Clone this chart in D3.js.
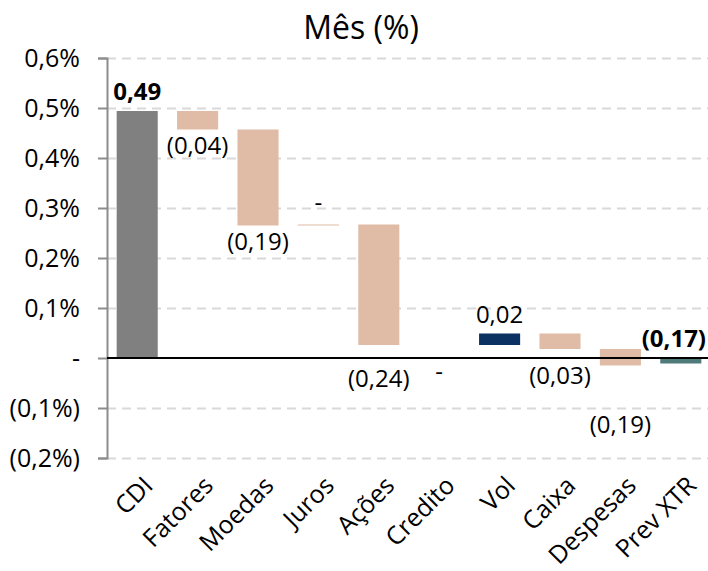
<!DOCTYPE html>
<html>
<head>
<meta charset="utf-8">
<script src="https://cdn.jsdelivr.net/npm/d3@7"></script>
<style>
  body { margin: 0; background: #fff; }
  svg { display: block; font-family: 'Open Sans', sans-serif; }
</style>
</head>
<body>
<svg></svg>
<script>
// categories on the x axis
let categories = ['CDI', 'Fatores', 'Moedas', 'Juros', 'Ações', 'Credito', 'Vol', 'Caixa', 'Despesas', 'Prev XTR']
// bar sizes (in %) as drawn; totals start at zero, steps start where the previous step ended
let deltas = [0.494, -0.037, -0.192, 0.002, -0.241, 0, 0.023, -0.031, -0.033, -0.011]
let kinds = ['total', 'step', 'step', 'step', 'step', 'step', 'step', 'step', 'step', 'total']
// printed data labels
let valueLabels = ['0,49', '(0,04)', '(0,19)', '-', '(0,24)', '-', '0,02', '(0,03)', '(0,19)', '(0,17)']
// y axis
let yTicks = [-0.2, -0.1, 0, 0.1, 0.2, 0.3, 0.4, 0.5, 0.6]
let yTickLabels = ['(0,2%)', '(0,1%)', '-', '0,1%', '0,2%', '0,3%', '0,4%', '0,5%', '0,6%']

let width = 708
let height = 571
let plotLeft = 107
let plotRight = 711
let plotTop = 58
let plotBottom = 458

let svg = d3.select('svg')
    .attr('width', width)
    .attr('height', height)

// build start/end of each bar
let rows = []
let running = 0
categories.forEach((c, i) => {
    let start, end
    if (kinds[i] == 'total') {
        start = 0
        end = deltas[i]
    } else {
        start = running
        end = running + deltas[i]
    }
    running = end
    rows.push({cat: c, start: start, end: end, delta: deltas[i], kind: kinds[i], label: valueLabels[i]})
})

let xScale = d3.scaleBand()
    .domain(categories)
    .range([plotLeft, plotRight])
    .paddingInner(0.32)
    .paddingOuter(0.16)

let yScale = d3.scaleLinear()
    .domain([-0.2, 0.6])
    .range([plotBottom, plotTop])

// title
svg.append('text')
    .attr('x', 361)
    .attr('y', 39)
    .attr('text-anchor', 'middle')
    .style('font-size', '32px')
    .attr('fill', '#000')
    .text('Mês (%)')

// dashed gridlines
svg.append('g')
    .attr('transform', 'translate(' + plotLeft + ',0)')
    .call(d3.axisLeft(yScale).tickValues(yTicks.filter(v => v != 0)).tickSize(-(width - plotLeft)).tickFormat(''))
    .call(g => g.select('.domain').remove())
    .selectAll('line')
    .attr('stroke', '#d9d9d9')
    .attr('stroke-width', 2)
    .attr('stroke-dasharray', '9,6')

// y axis
let yAxis = d3.axisLeft(yScale)
    .tickValues(yTicks)
    .tickSize(9)
    .tickPadding(18)
    .tickFormat(v => yTickLabels[yTicks.indexOf(v)])

svg.append('g')
    .attr('transform', 'translate(' + plotLeft + ',0)')
    .call(yAxis)
    .call(g => g.select('.domain').attr('stroke', '#8c8c8c').attr('stroke-width', 2))
    .call(g => g.selectAll('.tick line').attr('stroke', '#8c8c8c').attr('stroke-width', 2))
    .call(g => g.selectAll('.tick text').style('font-size', '25px').attr('fill', '#000').style('font-family', "'Open Sans', sans-serif"))

let barColor = (d) => {
    if (d.cat == 'CDI') return '#808080'
    if (d.kind == 'total') return '#4f7b7b'
    if (d.delta > 0 && d.cat != 'Juros') return '#0b3162'
    return '#e0bba6'
}

// bars
svg.selectAll('rect.bar')
    .data(rows)
    .enter()
    .append('rect')
    .attr('class', 'bar')
    .attr('x', d => xScale(d.cat))
    .attr('width', xScale.bandwidth())
    .attr('y', d => yScale(Math.max(d.start, d.end)))
    .attr('height', d => Math.abs(yScale(d.start) - yScale(d.end)))
    .attr('fill', barColor)

// zero line
svg.append('line')
    .attr('x1', plotLeft)
    .attr('x2', width)
    .attr('y1', yScale(0))
    .attr('y2', yScale(0))
    .attr('stroke', '#000')
    .attr('stroke-width', 2)

// manual label nudges (px), like hand-placed labels in the original
let labelShift = {'Ações': 18, 'Credito': 11, 'Caixa': 11, 'Despesas': 43, 'Juros': -3}

svg.selectAll('text.value')
    .data(rows)
    .enter()
    .append('text')
    .attr('class', 'value')
    .attr('x', d => xScale(d.cat) + xScale.bandwidth() / 2)
    .attr('y', d => {
        let above = d.kind == 'total' || d.delta > 0
        let y = above ? yScale(Math.max(d.start, d.end)) - 19 : yScale(Math.min(d.start, d.end)) + 16
        return y + (labelShift[d.cat] || 0)
    })
    .attr('dy', '0.35em')
    .attr('text-anchor', 'middle')
    .style('font-size', '24px')
    .style('font-weight', d => d.kind == 'total' ? 'bold' : 'normal')
    .attr('fill', '#000')
    .text(d => d.label)
    .each(function () {
        // keep labels inside the picture
        let box = this.getBBox()
        if (box.x + box.width > width - 2) {
            d3.select(this).attr('x', +d3.select(this).attr('x') - (box.x + box.width - (width - 2)))
        }
    })

// rotated category labels
svg.selectAll('text.cat')
    .data(categories)
    .enter()
    .append('text')
    .attr('class', 'cat')
    .attr('transform', c => 'translate(' + (xScale(c) + xScale.bandwidth() / 2 + 11) + ',481) rotate(-45)')
    .attr('text-anchor', 'end')
    .attr('dy', '0.35em')
    .style('font-size', '25px')
    .attr('fill', '#000')
    .text(c => c)
</script>
</body>
</html>
